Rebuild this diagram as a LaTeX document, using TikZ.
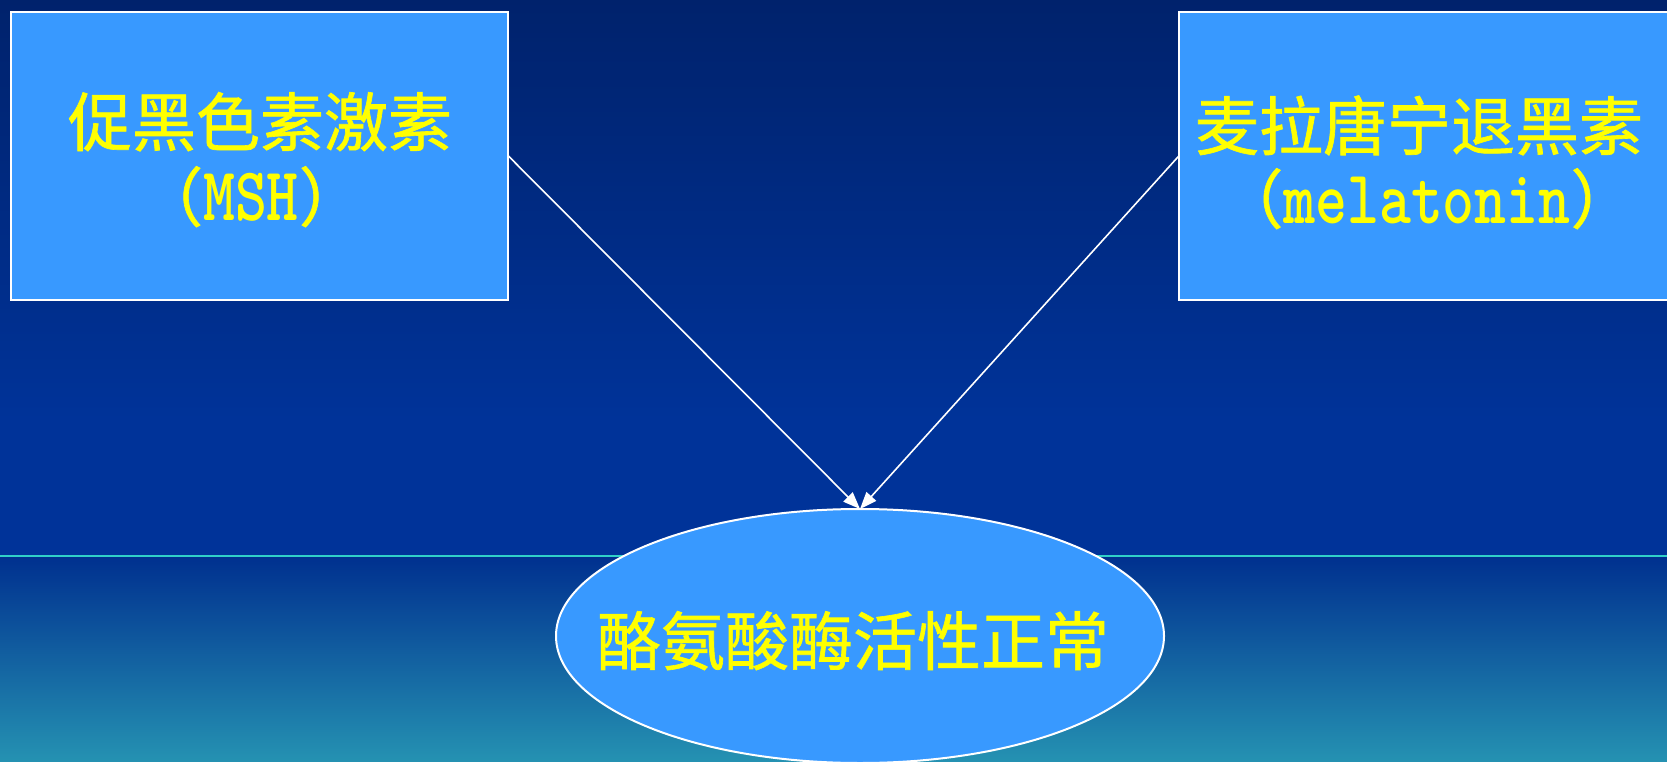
\documentclass[tikz,border=0pt]{standalone}
\usepackage{fontspec}
\usepackage{graphicx}
\newfontfamily\cjk[FakeBold=1]{Noto Sans CJK SC}
\usetikzlibrary{shapes.geometric,arrows.meta}
\definecolor{boxfill}{RGB}{56,153,255}
\definecolor{bgtop}{RGB}{0,34,108}
\definecolor{bgmid}{RGB}{0,51,153}
\definecolor{bglow}{RGB}{0,48,143}
\definecolor{bgbot}{RGB}{37,146,178}
\definecolor{sepline}{RGB}{48,208,200}
\definecolor{txt}{RGB}{255,255,0}
\tikzset{
  boxstyle/.style={draw=white, line width=2pt, fill=boxfill, inner sep=0pt, outer sep=0pt},
  ovalstyle/.style={ellipse, draw=white, line width=2pt, fill=boxfill, inner sep=0pt, outer sep=0pt},
  cjktext/.style={text=txt, inner sep=0pt, anchor=base, font=\cjk\fontsize{64}{64}\selectfont},
  arr/.style={draw=white, line width=1.6pt, -{Triangle[length=17pt,width=13pt]}}
}
\newcommand{\latw}[1]{\scalebox{0.8}[1]{\ttfamily\bfseries\fontsize{76}{76}\selectfont #1}}
\begin{document}
\begin{tikzpicture}[x=1pt,y=-1pt]
\useasboundingbox (0,0) rectangle (1667,762);
% background
\shade[top color=bgtop, bottom color=bgmid] (0,0) rectangle (1667,420);
\fill[bgmid] (0,420) rectangle (1667,556);
\shade[top color=bglow, bottom color=bgbot] (0,556) rectangle (1667,762);
\draw[sepline, line width=1.5pt] (0,556) -- (1667,556);
% shapes
\node[boxstyle, minimum width=497.6pt, minimum height=288pt] (L) at (259.4,155.8) {};
\node[boxstyle, minimum width=511pt, minimum height=288pt] (R) at (1434.5,155.8) {};
\node[ovalstyle, minimum width=608pt, minimum height=254pt] (E) at (860,636) {};
% texts
\node[cjktext] (L1) at (260,146) {促黑色素激素};
\node[cjktext] (L2) at (251,221) {（\latw{MSH}）};
\node[cjktext] (R1) at (1419,150) {麦拉唐宁退黑素};
\node[cjktext] (R2) at (1427,223) {（\latw{melatonin}）};
\node[cjktext] (E1) at (853,665) {酪氨酸酶活性正常};
% connectors
\draw[arr] (L.east) -- (E.north);
\draw[arr] (R.west) -- (E.north);
\end{tikzpicture}
\end{document}
